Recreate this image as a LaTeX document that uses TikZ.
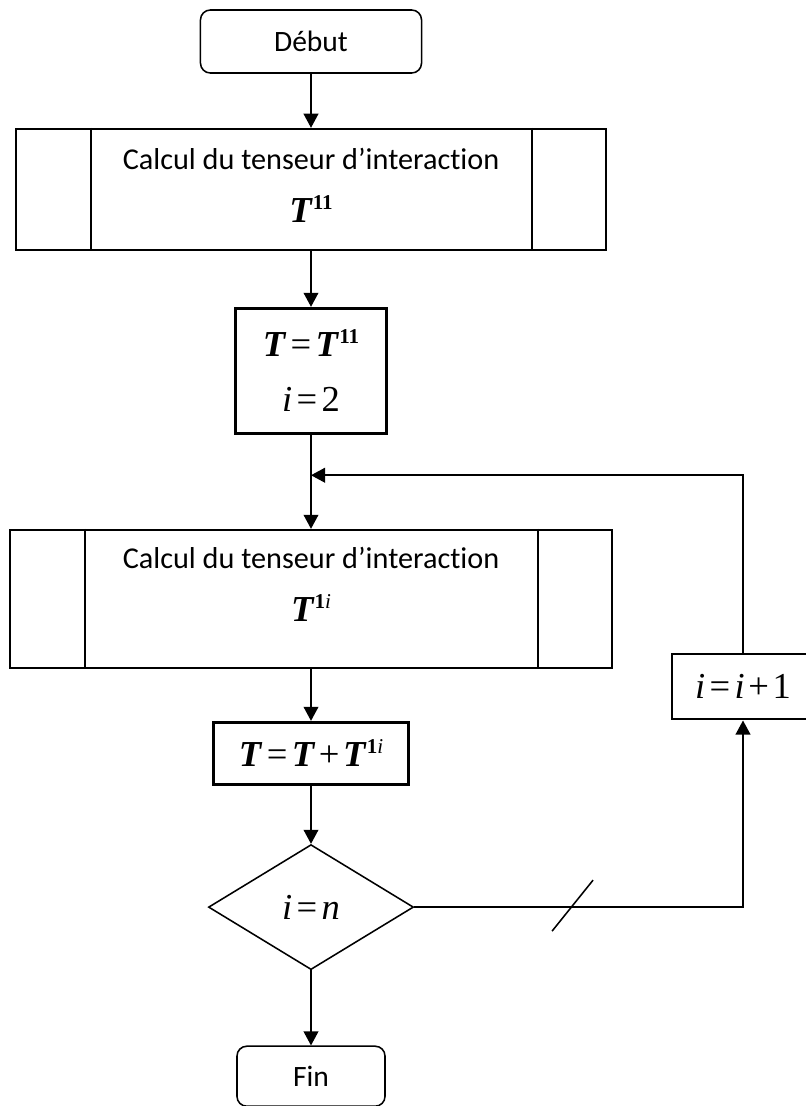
\documentclass[tikz,border=0pt]{standalone}
\usepackage{fontspec}
\usepackage{tikz}
\usetikzlibrary{shapes.geometric,arrows.meta,positioning,calc}
\newfontfamily\boxfont[Ligatures=NoCommon]{Carlito}
\newfontfamily\eqfont{Liberation Serif}
\newcommand{\bT}{\textbf{\textit{T}}}
\newcommand{\supx}[1]{\raisebox{0.35em}{\fontsize{15}{16}\selectfont #1}}
\newcommand{\iv}{\textit{i}}
\newcommand{\eqs}{\kern0.12em=\kern0.12em}
\newcommand{\pls}{\kern0.1em+\kern0.1em}

\begin{document}
\begin{tikzpicture}[
  x=0.025cm,y=-0.025cm,
  terminal/.style={rectangle,draw,rounded corners=7pt,line width=1.1pt,
                   minimum width=5.525cm,minimum height=1.575cm,inner sep=0pt,
                   font=\boxfont\fontsize{21}{24}\selectfont},
  subproc/.style={rectangle,draw,line width=1.4pt,align=center,inner sep=0pt,
                  font=\boxfont\fontsize{21.5}{24}\selectfont},
  calcbox/.style={rectangle,draw,line width=2.1pt,align=center,inner sep=0pt,
                  font=\eqfont\fontsize{26}{28}\selectfont},
  decision/.style={diamond,draw,line width=1.1pt,aspect=1.64,inner sep=0pt,
                   minimum width=5.125cm,minimum height=3.125cm,
                   font=\eqfont\fontsize{26}{28}\selectfont},
  arr/.style={-{Triangle[length=10pt,width=10.5pt]},line width=1.1pt}
]
  \useasboundingbox (0,0) rectangle (806,1106);

  \node[terminal](debut) at (311,41.5){Début};
  \node[subproc,minimum width=14.75cm,minimum height=3.025cm,below=1.35cm of debut](calc1)
    {Calcul du tenseur d’interaction\\[14pt]{\eqfont\fontsize{26}{28}\selectfont\bT\supx{\textbf{11}}}\rule[-6pt]{0pt}{0pt}};
  \node[calcbox,minimum width=3.775cm,minimum height=3.125cm,below=1.4cm of calc1](init)
    {\bT\eqs\bT\supx{\textbf{11}}\\[11pt]\iv\eqs 2};
  \node[subproc,minimum width=15.025cm,minimum height=3.45cm,below=2.35cm of init](calc2)
    {Calcul du tenseur d’interaction\\[14pt]{\eqfont\fontsize{26}{28}\selectfont\bT\supx{\textbf{1}\textit{i}}}\rule[-21pt]{0pt}{0pt}};
  \node[calcbox,minimum width=4.875cm,minimum height=1.55cm,below=1.3cm of calc2](sum)
    {\bT\eqs\bT\pls\bT\supx{\textbf{1}\textit{i}}};
  \node[decision,below=1.45cm of sum](test){\iv\eqs\textit{n}};
  \node[terminal,minimum width=3.7cm,minimum height=1.5cm,below=1.875cm of test](fin){Fin};
  \node[calcbox,minimum width=3.55cm,minimum height=1.625cm](incr) at (743,686.5)
    {\iv\eqs\iv\pls 1};

  % double side bars of the sub-process boxes
  \foreach \nd in {calc1,calc2}{
    \draw[line width=1.4pt]([xshift=1.9cm]\nd.north west)--([xshift=1.9cm]\nd.south west);
    \draw[line width=1.4pt]([xshift=-1.875cm]\nd.north east)--([xshift=-1.875cm]\nd.south east);
  }

  \draw[arr](debut)--(calc1);
  \draw[arr](calc1)--(init);
  \draw[arr](init)--(calc2);
  \draw[arr](calc2)--(sum);
  \draw[arr](sum)--(test);
  \draw[arr](test)--(fin);

  % loop back
  \coordinate (join) at ($(init.south)!0.43!(calc2.north)$);
  \draw[arr](incr.north)|-(join);
  \draw[arr](test.east)-|(incr.south);
  \coordinate (cut) at ($(test.east)!0.48!(test.east -| incr.south)$);
  \draw[line width=1.1pt]([shift={(-20,24)}]cut)--([shift={(21,-27)}]cut);
\end{tikzpicture}
\end{document}
